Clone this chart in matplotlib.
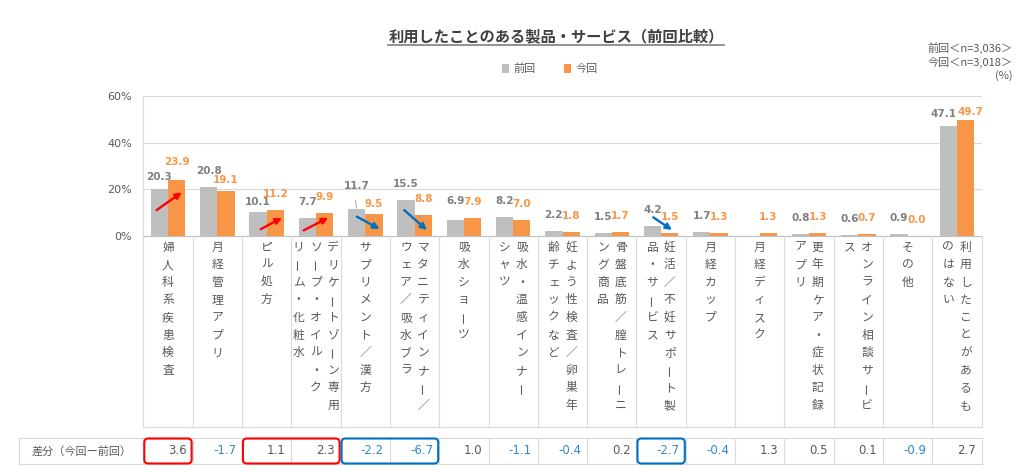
import matplotlib
matplotlib.use('Agg')
import matplotlib.pyplot as plt
import numpy as np
from matplotlib import transforms
from matplotlib.patches import FancyBboxPatch

plt.rcParams['font.family'] = ['Noto Sans CJK JP', 'DejaVu Sans']

# ---------------- data ----------------
title = '利用したことのある製品・サービス（前回比較）'
series_names = ['前回', '今回']
n_notes = ['前回＜n=3,036＞', '今回＜n=3,018＞', '(%)']

# category labels: vertical columns, listed right-to-left
categories = [
    ["婦人科系疾患検査"],
    ["月経管理アプリ"],
    ["ピル処方"],
    ["デリケートゾーン専用", "ソープ・オイル・ク", "リーム・化粧水"],
    ["サプリメント／漢方"],
    ["マタニティインナー／", "ウェア／吸水ブラ"],
    ["吸水ショーツ"],
    ["吸水・温感インナー", "シャツ"],
    ["妊よう性検査／卵巣年", "齢チェックなど"],
    ["骨盤底筋／膣トレーニ", "ング商品"],
    ["妊活／不妊サポート製", "品・サービス"],
    ["月経カップ"],
    ["月経ディスク"],
    ["更年期ケア・症状記録", "アプリ"],
    ["オンライン相談サービ", "ス"],
    ["その他"],
    ["利用したことがあるも", "のはない"],
]
prev_vals = [20.3, 20.8, 10.1, 7.7, 11.7, 15.5, 6.9, 8.2, 2.2, 1.5, 4.2, 1.7,
             np.nan, 0.8, 0.6, 0.9, 47.1]
curr_vals = [23.9, 19.1, 11.2, 9.9, 9.5, 8.8, 7.9, 7.0, 1.8, 1.7, 1.5, 1.3,
             1.3, 1.3, 0.7, 0.0, 49.7]
diff_label = '差分（今回ー前回）'
diff_vals = [3.6, -1.7, 1.1, 2.3, -2.2, -6.7, 1.0, -1.1, -0.4, 0.2, -2.7, -0.4,
             1.3, 0.5, 0.1, -0.9, 2.7]
yticks = [0, 20, 40, 60]

# annotation arrows (category, x-offset start/end, value start/end)
arrow_cats = [0, 2, 3, 4, 5, 10]
arrow_dx0 = [-0.23, -0.12, -0.25, -0.17, -0.21, -0.16]
arrow_dx1 = [0.28, 0.31, 0.25, 0.29, 0.25, 0.22]
arrow_v0 = [11.1, 2.9, 2.4, 8.3, 11.1, 8.0]
arrow_v1 = [18.7, 7.8, 7.8, 3.0, 2.6, 2.6]
# highlighted boxes in diff row: (first cell, last cell, up/down)
box_groups = [(0, 0, 'up'), (2, 3, 'up'), (4, 5, 'down'), (10, 10, 'down')]

# ---------------- style ----------------
GRAY = '#BFBFBF'
ORANGE = '#F79646'
GRAY_TXT = '#7F7F7F'
TXT = '#595959'
GRID = '#D9D9D9'
RED = '#FF0000'
BLUE = '#0070C0'
NEG = '#2E86D1'

# label offsets above bar tops (pixels); default and manual adjustments
LBL_OFF = 16.0
prev_lbl_adj = {0: 12.0, 2: 10.7, 4: 22.7, 6: 19.0, 16: 11.7}
curr_lbl_adj = {0: 18.0, 1: 11.4, 4: 9.5, 16: 8.3}
prev_lbl_dx = {16: -5.0}
curr_lbl_dx = {16: 5.0}
PX2PT = 72 / 100

W, H = 1024, 472
fig = plt.figure(figsize=(W / 100, H / 100), dpi=100)
ax_l, ax_r, ax_t, ax_b = 143.3, 981.7, 96.0, 236.0
ax = fig.add_axes([ax_l / W, 1 - ax_b / H, (ax_r - ax_l) / W, (ax_b - ax_t) / H])
ov = fig.add_axes([0, 0, 1, 1])
ov.set_xlim(0, W)
ov.set_ylim(H, 0)
ov.axis('off')
ov.patch.set_alpha(0)

n = len(categories)
x = np.arange(n)
bw = 0.351
ax.set_xlim(-0.5, n - 0.5)
ax.set_ylim(0, 60)

b1 = ax.bar(x - bw / 2, prev_vals, bw, color=GRAY, zorder=2)
b2 = ax.bar(x + bw / 2, curr_vals, bw, color=ORANGE, zorder=2)

ax.set_yticks(yticks)
ax.set_yticklabels([f'{v}%' for v in yticks], family='DejaVu Sans')
ax.tick_params(axis='y', length=0, pad=8, labelsize=8, colors=TXT)
ax.set_xticks([])
ax.yaxis.grid(True, color=GRID, lw=0.8)
ax.set_axisbelow(True)
for s in ['top', 'right']:
    ax.spines[s].set_visible(False)
ax.spines['left'].set_color(GRID)
ax.spines['bottom'].set_color('#BFBFBF')

# data labels
for i, v in enumerate(prev_vals):
    if np.isnan(v):
        continue
    off = prev_lbl_adj.get(i, LBL_OFF)
    if off > 20:
        # leader line for a label moved up
        ax.plot([x[i] - bw / 2 - 0.02, x[i] - bw / 2], [v + 3.4, v + 0.3],
                color='#A6A6A6', lw=0.7, zorder=3)
    ax.annotate(f'{v:.1f}', (x[i] - bw / 2, v),
                xytext=(prev_lbl_dx.get(i, 0) * PX2PT, off * PX2PT),
                textcoords='offset points', ha='center', va='center',
                fontsize=7.5, fontweight='bold', color=GRAY_TXT,
                family='DejaVu Sans', annotation_clip=False)
for i, v in enumerate(curr_vals):
    off = curr_lbl_adj.get(i, LBL_OFF)
    ax.annotate(f'{v:.1f}', (x[i] + bw / 2, v),
                xytext=(curr_lbl_dx.get(i, 0) * PX2PT, off * PX2PT),
                textcoords='offset points', ha='center', va='center',
                fontsize=7.5, fontweight='bold', color=ORANGE,
                family='DejaVu Sans', annotation_clip=False)

# arrows
for c, a0, a1, v0, v1 in zip(arrow_cats, arrow_dx0, arrow_dx1, arrow_v0, arrow_v1):
    col = RED if v1 > v0 else BLUE
    ax.annotate('', xy=(c + a1, v1), xytext=(c + a0, v0),
                arrowprops=dict(arrowstyle='-|>', color=col, lw=1.7,
                                mutation_scale=9, shrinkA=0, shrinkB=0),
                zorder=5)

blend = transforms.blended_transform_factory(ax.transData, ov.transData)

# category label area
lab_top, lab_bot = 236.0, 427.3
for bnd in np.arange(-0.5, n, 1.0):
    ov.plot([bnd, bnd], [lab_top, lab_bot], transform=blend, color=GRID, lw=0.8)
ov.plot([-0.5, n - 0.5], [lab_bot, lab_bot], transform=blend, color=GRID, lw=0.8)

col_step = 0.353
for i, cols in enumerate(categories):
    nc = len(cols)
    for k, col in enumerate(cols):
        xo = ((nc - 1) / 2 - k) * col_step
        for j, ch in enumerate(col):
            rot = 90 if ch == 'ー' else 0
            ov.text(i + xo, 247 + j * 17.6, ch, transform=blend, ha='center',
                    va='center', fontsize=8.5, color=TXT, rotation=rot)

# diff table
t_top, t_bot = 437.7, 464.3
t_mid = (t_top + t_bot) / 2
fig.canvas.draw()
def px(xd):
    return ax.transData.transform((xd, 0))[0]
right_px = px(n - 0.5)
for yy in (t_top, t_bot):
    ov.plot([19, right_px], [yy, yy], color=GRID, lw=0.8)
ov.plot([19, 19], [t_top, t_bot], color=GRID, lw=0.8)
for bnd in np.arange(-0.5, n, 1.0):
    ov.plot([bnd, bnd], [t_top, t_bot], transform=blend, color=GRID, lw=0.8)
ov.text((19 + px(-0.5)) / 2, t_mid, diff_label, ha='center', va='center',
        fontsize=8, color=TXT)
for i, d in enumerate(diff_vals):
    ov.text(i + 0.5 - 0.12, t_mid, f'{d:.1f}', transform=blend, ha='right',
            va='center', fontsize=8.5, color=NEG if d < 0 else TXT,
            family='DejaVu Sans')
for c0, c1, kind in box_groups:
    x0 = px(c0 - 0.5) + 1
    x1 = px(c1 + 0.5) - 1
    ov.add_patch(FancyBboxPatch((x0, t_top + 0.8), x1 - x0, (t_bot - t_top) - 1.6,
                                boxstyle='round,pad=0,rounding_size=4',
                                fill=False, ec=RED if kind == 'up' else BLUE,
                                lw=1.5, zorder=6))

# title with underline
tt = ov.text(556, 36, title, ha='center', va='center', fontsize=11,
             fontweight='bold', color='#404040')
fig.canvas.draw()
bb = tt.get_window_extent()
uy = H - bb.y0 + 0.5
ov.plot([bb.x0, bb.x1], [uy, uy], color='#7F7F7F', lw=1.2)

# sample size notes
for k, s in enumerate(n_notes):
    ov.text(1013, 48 + k * 14, s, ha='right', va='center', fontsize=8, color=TXT)

# legend
ax.legend([b1, b2], series_names, loc='center', ncol=2, frameon=False,
          bbox_to_anchor=(550 / W, 1 - 69 / H), bbox_transform=fig.transFigure,
          fontsize=8, handlelength=0.6, handleheight=0.8, handletextpad=0.4,
          columnspacing=2.6, labelcolor=TXT)

fig.savefig('out.png', dpi=100, facecolor='white')
